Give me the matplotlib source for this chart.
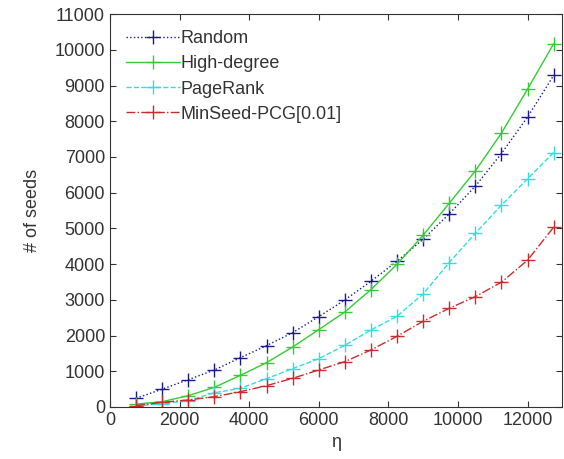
import matplotlib
matplotlib.use("Agg")
import matplotlib.pyplot as plt
import numpy as np

plt.rcParams['font.family'] = ['Liberation Sans', 'DejaVu Sans']

eta = [750, 1500, 2250, 3000, 3750, 4500, 5250, 6000, 6750, 7500, 8250,
       9000, 9750, 10500, 11250, 12000, 12750]
random_seeds = [243, 500, 765, 1036, 1381, 1718, 2082, 2530, 2997, 3520, 4080,
                4697, 5406, 6182, 7096, 8115, 9281]
high_degree = [80, 150, 317, 551, 887, 1242, 1680, 2166, 2661, 3287, 3996,
               4808, 5705, 6611, 7666, 8899, 10168]
pagerank = [30, 90, 180, 400, 523, 794, 1074, 1354, 1727, 2157, 2540,
            3165, 4043, 4865, 5650, 6387, 7124]
minseed = [37, 131, 196, 289, 429, 597, 803, 1036, 1270, 1597, 1980,
           2400, 2764, 3090, 3493, 4109, 5033]

labels = ['Random', 'High-degree', 'PageRank', 'MinSeed-PCG[0.01]']
xticks = [0, 2000, 4000, 6000, 8000, 10000, 12000]
yticks = list(range(0, 11001, 1000))

fig = plt.figure(figsize=(5.64, 4.59), dpi=100)
ax = fig.add_axes([0.195, 0.1133, 0.802, 0.856])

ms = 10
mew = 1.0
ax.plot(eta, random_seeds, ':', color='#1a1a8c', marker='+', ms=ms, mew=mew, lw=1, label=labels[0])
ax.plot(eta, high_degree, '-', color='#33cc33', marker='+', ms=ms, mew=mew, lw=1, label=labels[1])
ax.plot(eta, pagerank, '--', color='#33dddd', marker='+', ms=ms, mew=mew, lw=1, label=labels[2])
ax.plot(eta, minseed, '-.', color='#cc2b2b', marker='+', ms=ms, mew=mew, lw=1, label=labels[3])

ax.set_xlim(0, 13000)
ax.set_ylim(0, 11000)
ax.set_xticks(xticks)
ax.set_yticks(yticks)
ax.tick_params(direction='in', top=True, right=True, labelsize=13, length=4, colors='#333333', labelcolor='#333333')
for s in ax.spines.values():
    s.set_color('#333333')
    s.set_linewidth(0.8)

ax.set_xlabel('η', fontsize=13, color='#333333')
ax.set_ylabel('# of seeds', fontsize=13, color='#333333', labelpad=10)

leg = ax.legend(loc='upper left', frameon=False, fontsize=13, handlelength=3.0,
                handletextpad=0.0, labelspacing=0.45, borderaxespad=0.5)
for t in leg.get_texts():
    t.set_color('#333333')

fig.savefig('out.png', dpi=100)
